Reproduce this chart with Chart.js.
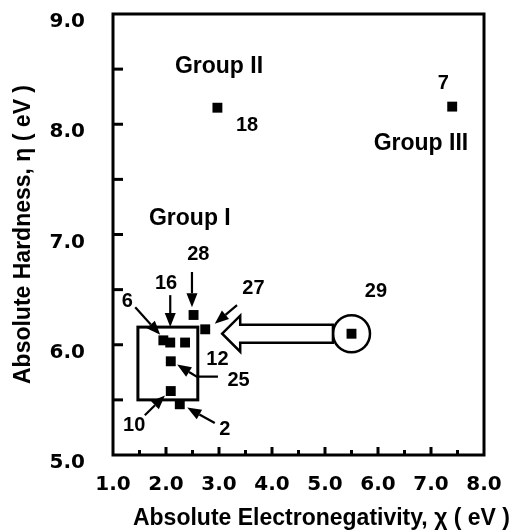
<!DOCTYPE html>
<html>
<head>
<meta charset="utf-8">
<script src="https://cdn.jsdelivr.net/npm/chart.js"></script>
<style>
  html, body { margin: 0; padding: 0; background: #fff; }
  canvas { display: block; }
</style>
</head>
<body>
<canvas id="myChart" width="513" height="532"></canvas>
<script>
// compound numbers and their (chi, eta) values in eV
const compoundIds = ['2', '6', '7', '10', '12', '16', '18', '25', '27', '28', '29'];
const chiValues = [2.26, 1.95, 7.40, 2.09, 2.36, 2.08, 2.97, 2.09, 2.74, 2.52, 5.50];
const etaValues = [5.46, 6.04, 8.16, 5.58, 6.02, 6.02, 8.15, 5.85, 6.14, 6.27, 6.10];

const xTickLabels = ['1.0', '2.0', '3.0', '4.0', '5.0', '6.0', '7.0', '8.0'];
const yTickLabels = ['5.0', '6.0', '7.0', '8.0', '9.0'];

// annotation text, placed in data units
const groupNames = ['Group II', 'Group III', 'Group I'];
const groupChi = [3.00, 6.81, 2.45];
const groupEta = [8.52, 7.82, 7.14];

const numberLabels = ['18', '7', '28', '16', '27', '6', '12', '25', '10', '2', '29'];
const numberChi = [3.53, 7.23, 2.61, 2.00, 3.65, 1.27, 2.97, 3.37, 1.40, 3.11, 5.96];
const numberEta = [7.99, 8.37, 6.82, 6.56, 6.51, 6.39, 5.87, 5.68, 5.27, 5.23, 6.48];

// pointer arrows (polylines, last point is the tip), data units
const pointerArrows = [
  [[2.49, 6.66], [2.49, 6.34]],
  [[2.08, 6.45], [2.08, 6.16]],
  [[1.42, 6.34], [1.89, 6.09]],
  [[3.34, 6.36], [2.92, 6.19]],
  [[2.98, 5.71], [2.58, 5.71], [2.21, 5.82]],
  [[1.60, 5.36], [1.98, 5.54]],
  [[2.92, 5.29], [2.40, 5.43]]
];

// Group I box and the big hollow arrow from compound 29
const boxChi = [1.47, 2.60];
const boxEta = [5.50, 6.16];
const bigArrowChi = [3.06, 3.40, 5.15]; // tip, head back, tail

const LABEL_FONT = 'bold 23px "Liberation Sans", Arial, sans-serif';
const NUM_FONT = 'bold 20px "Liberation Sans", Arial, sans-serif';

const decorations = {
  id: 'decorations',
  afterDraw(chart) {
    const { ctx, chartArea: a, scales: { x, y } } = chart;
    const px = v => x.getPixelForValue(v);
    const py = v => y.getPixelForValue(v);
    const line = (x1, y1, x2, y2) => { ctx.beginPath(); ctx.moveTo(x1, y1); ctx.lineTo(x2, y2); ctx.stroke(); };

    ctx.save();
    ctx.strokeStyle = '#000';
    ctx.fillStyle = '#000';
    ctx.lineCap = 'butt';

    // frame
    ctx.lineWidth = 3;
    ctx.strokeRect(a.left, a.top, a.right - a.left, a.bottom - a.top);

    // inner tick marks
    y.ticks.forEach(t => {
      if (t.value <= y.min || t.value >= y.max) return;
      const yy = py(t.value);
      line(a.left, yy, a.left + 10, yy);
    });
    x.ticks.forEach(t => {
      if (t.value <= x.min || t.value >= x.max) return;
      const xx = px(t.value);
      const len = Number.isInteger(t.value) ? 8 : 5;
      line(xx, a.bottom, xx, a.bottom - len);
    });

    // Group I box
    ctx.lineWidth = 3;
    ctx.strokeRect(px(boxChi[0]), py(boxEta[1]), px(boxChi[1]) - px(boxChi[0]), py(boxEta[0]) - py(boxEta[1]));

    // circle round compound 29 and hollow arrow pointing at the box
    const i29 = compoundIds.indexOf('29');
    const cx = px(chiValues[i29]), cy = py(etaValues[i29]);
    ctx.lineWidth = 2.5;
    ctx.beginPath();
    ctx.arc(cx, cy, 18.5, 0, Math.PI * 2);
    ctx.stroke();

    const tip = px(bigArrowChi[0]), back = px(bigArrowChi[1]), tail = px(bigArrowChi[2]);
    ctx.beginPath();
    ctx.moveTo(tip, cy);
    ctx.lineTo(back, cy - 18);
    ctx.lineTo(back, cy - 9);
    ctx.lineTo(tail, cy - 9);
    ctx.lineTo(tail, cy + 9);
    ctx.lineTo(back, cy + 9);
    ctx.lineTo(back, cy + 18);
    ctx.closePath();
    ctx.fillStyle = '#fff';
    ctx.fill();
    ctx.stroke();
    ctx.fillStyle = '#000';

    // pointer arrows
    ctx.lineWidth = 2.2;
    pointerArrows.forEach(pts => {
      const p = pts.map(q => [px(q[0]), py(q[1])]);
      const [tx, ty] = p[p.length - 1];
      const [fx, fy] = p[p.length - 2];
      const ang = Math.atan2(ty - fy, tx - fx);
      const headLen = 14, headHalf = 5.5;
      const bx = tx - headLen * Math.cos(ang), by = ty - headLen * Math.sin(ang);
      ctx.beginPath();
      ctx.moveTo(p[0][0], p[0][1]);
      for (let k = 1; k < p.length - 1; k++) ctx.lineTo(p[k][0], p[k][1]);
      ctx.lineTo(bx, by);
      ctx.stroke();
      ctx.beginPath();
      ctx.moveTo(tx, ty);
      ctx.lineTo(bx + headHalf * Math.sin(ang), by - headHalf * Math.cos(ang));
      ctx.lineTo(bx - headHalf * Math.sin(ang), by + headHalf * Math.cos(ang));
      ctx.closePath();
      ctx.fill();
    });

    // text
    ctx.textAlign = 'center';
    ctx.textBaseline = 'middle';
    ctx.font = LABEL_FONT;
    groupNames.forEach((g, i) => ctx.fillText(g, px(groupChi[i]), py(groupEta[i])));
    ctx.font = NUM_FONT;
    numberLabels.forEach((n, i) => ctx.fillText(n, px(numberChi[i]), py(numberEta[i])));

    // x axis title
    ctx.font = LABEL_FONT;
    ctx.textAlign = 'right';
    ctx.fillText('Absolute Electronegativity, \u03c7 ( eV )', chart.width - 3, 519);
    ctx.restore();
  }
};

const tickFont = { family: 'DejaVu Sans', weight: 'bold', size: 20 };

const config = {
  type: 'scatter',
  data: {
    datasets: [{
      label: 'compounds',
      data: compoundIds.map((id, i) => ({ x: chiValues[i], y: etaValues[i] })),
      pointStyle: 'rect',
      pointRadius: 7,
      pointHoverRadius: 7,
      backgroundColor: '#000',
      borderColor: '#000',
      borderWidth: 0
    }]
  },
  options: {
    responsive: false,
    animation: false,
    layout: { padding: { top: 14, right: 29, left: 0, bottom: 0 } },
    plugins: {
      legend: { display: false },
      tooltip: { enabled: false }
    },
    scales: {
      x: {
        type: 'linear',
        min: 1,
        max: 8,
        afterFit(s) { s.height = 77; s.paddingLeft = 0; s.paddingRight = 0; },
        border: { display: false },
        grid: { display: false },
        ticks: {
          stepSize: 0.5,
          autoSkip: false,
          maxRotation: 0,
          padding: 10,
          color: '#000',
          font: tickFont,
          callback: v => Number.isInteger(v) ? xTickLabels[v - 1] : ''
        }
      },
      y: {
        type: 'linear',
        min: 5,
        max: 9,
        afterFit(s) { s.width = 113; s.paddingTop = 0; s.paddingBottom = 0; },
        border: { display: false },
        grid: { display: false },
        ticks: {
          stepSize: 0.5,
          autoSkip: false,
          padding: 20,
          labelOffset: 8,
          color: '#000',
          font: tickFont,
          callback: v => Number.isInteger(v) ? yTickLabels[v - 5] : ''
        },
        title: {
          display: true,
          text: 'Absolute Hardness, \u03b7 ( eV )',
          color: '#000',
          font: { family: 'Liberation Sans', weight: 'bold', size: 23 },
          padding: { top: 10, bottom: 0 }
        }
      }
    }
  },
  plugins: [decorations]
};

new Chart(document.getElementById('myChart'), config);
</script>
</body>
</html>
